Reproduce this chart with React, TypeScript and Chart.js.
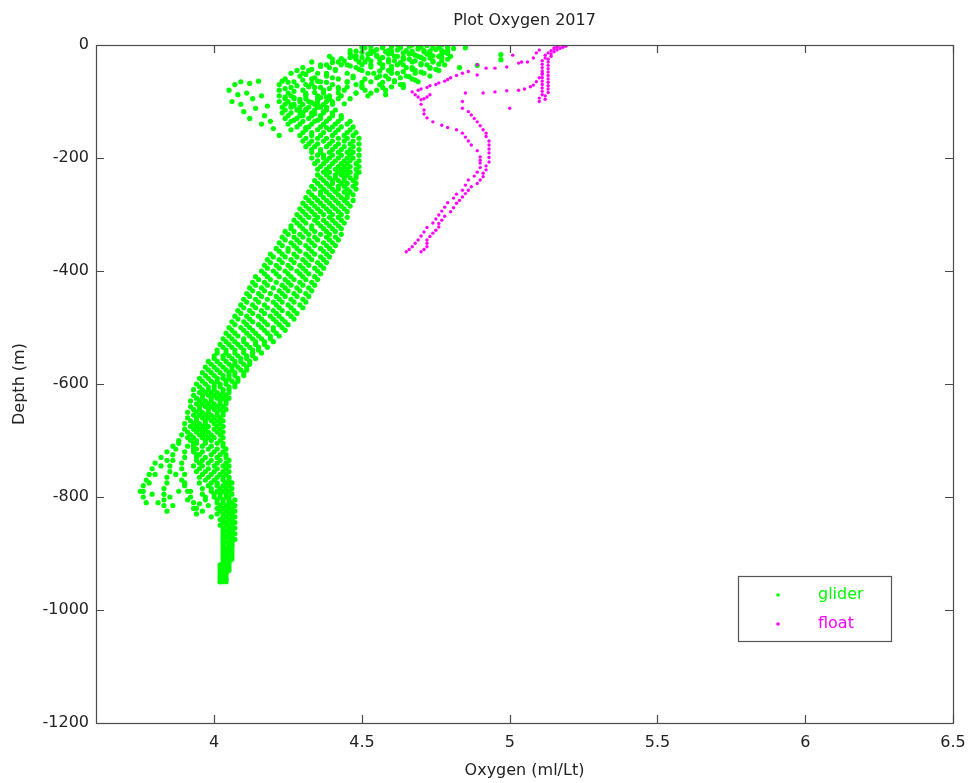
import React, { useEffect, useRef } from "react";
import { Chart, registerables } from "chart.js";

Chart.register(...registerables);

// ---------- DATA ----------
const chartTitle = "Plot Oxygen 2017";
const xAxisTitle = "Oxygen (ml/Lt)";
const yAxisTitle = "Depth (m)";
const seriesLabels = ["glider", "float"];
const xTicks = [4, 4.5, 5, 5.5, 6, 6.5];
const yTicks = [0, -200, -400, -600, -800, -1000, -1200];

// glider sampling depths (m)
const depthA = [
  0, -10, -20, -30, -40, -50, -60, -70, -80, -90,
  -100, -110, -120, -130, -140, -150, -160, -170, -180, -190,
  -200, -210, -220, -230, -240, -250, -260, -270, -280, -290,
  -300, -310, -320, -330, -340, -350, -360, -370, -380, -390,
  -400, -410, -420, -430, -440, -450, -460, -470, -480, -490,
  -500, -510, -520, -530, -540, -550, -560, -570, -580, -590,
  -600, -610, -620, -630, -640, -650, -660, -670, -680, -690,
  -700, -710, -720, -730, -740, -750, -760, -770, -780, -790,
  -800, -810, -820, -830, -840, -850, -860, -870, -880, -890,
  -900, -910, -920, -930, -940, -950,
];
const depthB = [
  -5, -15, -25, -35, -45, -55, -65, -75, -85, -95,
  -105, -115, -125, -135, -145, -155, -165, -175, -185, -195,
  -205, -215, -225, -235, -245, -255, -265, -275, -285, -295,
  -305, -315, -325, -335, -345, -355, -365, -375, -385, -395,
  -405, -415, -425, -435, -445, -455, -465, -475, -485, -495,
  -505, -515, -525, -535, -545, -555, -565, -575, -585, -595,
  -605, -615, -625, -635, -645, -655, -665, -675, -685, -695,
  -705, -715, -725, -735, -745, -755, -765, -775, -785, -795,
  -805, -815, -825, -835, -845, -855, -865, -875, -885, -895,
  -905, -915, -925, -935, -945,
];

// glider oxygen profiles on depthA
const gliderP1 = [
  4.51, 4.46, 4.39, 4.33, 4.30, 4.26, 4.24, 4.22, 4.22, 4.22,
  4.22, 4.23, 4.23, 4.24, 4.25, 4.26, 4.29, 4.30, 4.31, 4.33,
  4.33, 4.34, 4.35, 4.35, 4.34, 4.33, 4.32, 4.31, 4.30, 4.29,
  4.28, 4.27, 4.26, 4.24, 4.23, 4.22, 4.21, 4.19, 4.18, 4.17,
  4.16, 4.14, 4.13, 4.12, 4.11, 4.10, 4.09, 4.08, 4.07, 4.06,
  4.05, 4.04, 4.03, 4.02, 4.01, 4.00, 3.98, 3.97, 3.96, 3.95,
  3.94, 3.93, 3.93, 3.92, 3.92, 3.91, 3.91, 3.90, 3.90, 3.89,
  3.88, 3.86, 3.84, 3.82, 3.80, 3.79, 3.78, 3.77, 3.76, 3.76,
  3.76, 3.77,
];
const gliderP3 = [
  4.57, 4.53, 4.47, 4.42, 4.39, 4.35, 4.33, 4.31, 4.30, 4.26,
  4.25, 4.26, 4.26, 4.28, 4.29, 4.31, 4.33, 4.33, 4.34, 4.36,
  4.37, 4.37, 4.38, 4.38, 4.37, 4.36, 4.36, 4.34, 4.33, 4.32,
  4.31, 4.30, 4.29, 4.27, 4.27, 4.26, 4.25, 4.23, 4.22, 4.21,
  4.20, 4.18, 4.17, 4.16, 4.15, 4.14, 4.13, 4.12, 4.11, 4.10,
  4.09, 4.07, 4.06, 4.05, 4.04, 4.03, 4.01, 4.00, 3.99, 3.98,
  3.97, 3.96, 3.96, 3.95, 3.95, 3.94, 3.94, 3.93, 3.93, 3.92,
  3.92, 3.91, 3.90, 3.90, 3.89, 3.89, 3.90, 3.89, 3.90, 3.91,
  3.92, 3.93, 3.94,
];
const gliderP5 = [
  4.62, 4.59, 4.55, 4.51, 4.48, 4.45, 4.42, 4.40, 4.37, 4.31,
  4.29, 4.29, 4.30, 4.32, 4.33, 4.35, 4.36, 4.37, 4.38, 4.39,
  4.39, 4.40, 4.41, 4.41, 4.40, 4.39, 4.38, 4.37, 4.36, 4.35,
  4.34, 4.34, 4.33, 4.31, 4.30, 4.29, 4.28, 4.27, 4.26, 4.25,
  4.24, 4.22, 4.21, 4.20, 4.19, 4.18, 4.17, 4.16, 4.15, 4.13,
  4.12, 4.11, 4.10, 4.08, 4.07, 4.05, 4.04, 4.03, 4.02, 4.01,
  4.00, 3.98, 3.98, 3.97, 3.97, 3.96, 3.96, 3.95, 3.95, 3.95,
  3.94, 3.93, 3.93, 3.94, 3.95, 3.95, 3.96, 3.97, 3.98, 3.99,
  4.00, 4.01, 4.01, 4.01, 4.02, 4.02, 4.03, 4.03, 4.03, 4.03,
  4.03, 4.03, 4.02, 4.02, 4.02, 4.02,
];
const gliderP7 = [
  4.67, 4.65, 4.62, 4.59, 4.57, 4.54, 4.51, 4.48, 4.44, 4.35,
  4.32, 4.32, 4.33, 4.36, 4.37, 4.39, 4.40, 4.40, 4.41, 4.42,
  4.42, 4.43, 4.43, 4.43, 4.42, 4.42, 4.41, 4.40, 4.39, 4.38,
  4.37, 4.37, 4.36, 4.34, 4.34, 4.33, 4.32, 4.31, 4.30, 4.29,
  4.28, 4.26, 4.25, 4.24, 4.23, 4.22, 4.21, 4.20, 4.19, 4.17,
  4.16, 4.14, 4.13, 4.11, 4.10, 4.08, 4.07, 4.06, 4.05, 4.03,
  4.02, 4.00, 4.00, 3.99, 3.99, 3.98, 3.98, 3.97, 3.97, 3.97,
  3.97, 3.96, 3.96, 3.97, 3.98, 3.98, 3.99, 4.00, 4.01, 4.01,
  4.02, 4.03, 4.03, 4.03, 4.03, 4.04, 4.04, 4.04, 4.04, 4.04,
  4.04, 4.04, 4.03, 4.03, 4.03, 4.02,
];
const gliderP9 = [
  4.72, 4.71, 4.69, 4.67, 4.65, 4.62, 4.59, 4.56, 4.51, 4.39,
  4.35, 4.35, 4.37, 4.39, 4.41, 4.42, 4.44, 4.44, 4.44, 4.45,
  4.45, 4.45, 4.45, 4.45, 4.44, 4.44, 4.44, 4.43, 4.42, 4.41,
  4.40, 4.40, 4.39, 4.38, 4.38, 4.37, 4.36, 4.34, 4.33, 4.32,
  4.31, 4.30, 4.29, 4.28, 4.27, 4.26, 4.25, 4.23, 4.22, 4.21,
  4.20, 4.18, 4.16, 4.14, 4.13, 4.11, 4.09, 4.08, 4.07, 4.05,
  4.04, 4.03, 4.02, 4.02, 4.01, 4.01, 4.00, 4.00, 4.00, 3.99,
  3.99, 3.99, 4.00, 4.01, 4.01, 4.01, 4.02, 4.03, 4.03, 4.03,
  4.04, 4.05, 4.05, 4.05, 4.05, 4.05, 4.05, 4.05, 4.05, 4.05,
  4.05, 4.05, 4.04, 4.04, 4.03, 4.03,
];
const gliderP11 = [
  4.77, 4.77, 4.76, 4.74, 4.73, 4.71, 4.67, 4.63, 4.58, 4.43,
  4.38, 4.38, 4.40, 4.43, 4.45, 4.46, 4.47, 4.47, 4.47, 4.47,
  4.47, 4.48, 4.48, 4.48, 4.47, 4.47, 4.46, 4.45, 4.45, 4.44,
  4.43, 4.43, 4.42, 4.41, 4.41, 4.40, 4.39, 4.38, 4.37, 4.36,
  4.35, 4.34, 4.33, 4.32, 4.31, 4.30, 4.29, 4.27, 4.26, 4.24,
  4.23, 4.21, 4.19, 4.17, 4.15, 4.13, 4.12, 4.11, 4.10, 4.08,
  4.07, 4.05, 4.04, 4.04, 4.03, 4.03, 4.02, 4.02, 4.02, 4.02,
  4.02, 4.03, 4.03, 4.04, 4.04, 4.04, 4.04, 4.05, 4.05, 4.05,
  4.05, 4.06, 4.06, 4.06, 4.06, 4.06, 4.06, 4.06, 4.06, 4.06,
  4.06, 4.06, 4.05, 4.05, 4.04, 4.04,
];

// glider oxygen profiles on depthB
const gliderP2 = [
  4.51, 4.46, 4.40, 4.36, 4.32, 4.29, 4.27, 4.26, 4.25, 4.24,
  4.24, 4.24, 4.25, 4.26, 4.28, 4.30, 4.31, 4.32, 4.33, 4.35,
  4.35, 4.36, 4.37, 4.36, 4.35, 4.34, 4.33, 4.32, 4.31, 4.30,
  4.29, 4.28, 4.26, 4.25, 4.24, 4.23, 4.22, 4.20, 4.19, 4.18,
  4.17, 4.15, 4.14, 4.13, 4.12, 4.11, 4.10, 4.09, 4.08, 4.07,
  4.06, 4.05, 4.04, 4.03, 4.01, 4.00, 3.99, 3.98, 3.97, 3.96,
  3.95, 3.95, 3.94, 3.94, 3.93, 3.93, 3.92, 3.92, 3.91, 3.91,
  3.88, 3.87, 3.86, 3.86, 3.85, 3.85, 3.84, 3.84, 3.83, 3.83,
  3.83, 3.83, 3.84,
];
const gliderP4 = [
  4.57, 4.53, 4.48, 4.45, 4.41, 4.38, 4.36, 4.34, 4.31, 4.27,
  4.27, 4.28, 4.29, 4.30, 4.32, 4.33, 4.35, 4.35, 4.36, 4.37,
  4.38, 4.39, 4.39, 4.39, 4.38, 4.37, 4.36, 4.35, 4.34, 4.33,
  4.32, 4.31, 4.30, 4.29, 4.28, 4.27, 4.25, 4.24, 4.23, 4.22,
  4.21, 4.19, 4.18, 4.17, 4.16, 4.15, 4.14, 4.13, 4.12, 4.11,
  4.10, 4.08, 4.07, 4.06, 4.04, 4.03, 4.02, 4.01, 4.00, 3.99,
  3.98, 3.97, 3.96, 3.96, 3.95, 3.95, 3.94, 3.94, 3.94, 3.93,
  3.93, 3.93, 3.94, 3.94, 3.93, 3.94, 3.95, 3.95, 3.96, 3.96,
  3.97, 3.98,
];
const gliderP6 = [
  4.63, 4.60, 4.56, 4.53, 4.50, 4.47, 4.45, 4.42, 4.37, 4.31,
  4.30, 4.31, 4.33, 4.34, 4.36, 4.37, 4.38, 4.39, 4.40, 4.40,
  4.41, 4.42, 4.42, 4.41, 4.40, 4.40, 4.39, 4.38, 4.37, 4.36,
  4.35, 4.35, 4.33, 4.32, 4.32, 4.31, 4.29, 4.28, 4.27, 4.26,
  4.25, 4.24, 4.23, 4.22, 4.21, 4.20, 4.18, 4.17, 4.16, 4.15,
  4.13, 4.12, 4.10, 4.09, 4.07, 4.06, 4.05, 4.04, 4.03, 4.01,
  4.00, 3.99, 3.99, 3.98, 3.98, 3.97, 3.97, 3.96, 3.96, 3.96,
  3.94, 3.94, 3.95, 3.96, 3.96, 3.97, 3.98, 3.99, 3.99, 4.00,
  4.01, 4.02, 4.02, 4.03, 4.03, 4.03, 4.03, 4.03, 4.03, 4.03,
  4.03, 4.03, 4.02, 4.02, 4.02,
];
const gliderP8 = [
  4.69, 4.67, 4.64, 4.62, 4.59, 4.56, 4.53, 4.50, 4.42, 4.35,
  4.34, 4.34, 4.36, 4.38, 4.40, 4.41, 4.42, 4.42, 4.43, 4.43,
  4.44, 4.44, 4.44, 4.44, 4.43, 4.42, 4.42, 4.41, 4.40, 4.39,
  4.39, 4.38, 4.37, 4.36, 4.35, 4.34, 4.33, 4.32, 4.31, 4.30,
  4.29, 4.27, 4.26, 4.25, 4.24, 4.23, 4.22, 4.21, 4.20, 4.18,
  4.17, 4.15, 4.14, 4.12, 4.10, 4.09, 4.07, 4.06, 4.05, 4.04,
  4.02, 4.01, 4.01, 4.00, 4.00, 3.99, 3.99, 3.98, 3.98, 3.98,
  3.97, 3.98, 3.99, 3.99, 4.00, 4.00, 4.01, 4.01, 4.02, 4.02,
  4.03, 4.04, 4.04, 4.04, 4.04, 4.05, 4.05, 4.05, 4.05, 4.04,
  4.04, 4.04, 4.03, 4.03, 4.03,
];
const gliderP10 = [
  4.74, 4.73, 4.71, 4.70, 4.68, 4.65, 4.61, 4.57, 4.48, 4.39,
  4.37, 4.38, 4.40, 4.42, 4.43, 4.45, 4.45, 4.46, 4.46, 4.46,
  4.46, 4.46, 4.46, 4.46, 4.45, 4.45, 4.45, 4.44, 4.43, 4.42,
  4.42, 4.41, 4.40, 4.39, 4.39, 4.38, 4.37, 4.36, 4.35, 4.34,
  4.32, 4.31, 4.30, 4.29, 4.28, 4.27, 4.26, 4.25, 4.23, 4.22,
  4.20, 4.19, 4.17, 4.15, 4.13, 4.11, 4.10, 4.09, 4.07, 4.06,
  4.05, 4.03, 4.03, 4.02, 4.02, 4.01, 4.01, 4.01, 4.01, 4.00,
  4.01, 4.01, 4.02, 4.02, 4.03, 4.03, 4.03, 4.04, 4.04, 4.04,
  4.05, 4.05, 4.06, 4.06, 4.06, 4.06, 4.06, 4.06, 4.06, 4.05,
  4.05, 4.05, 4.04, 4.04, 4.04,
];
const gliderP12 = [
  4.79, 4.79, 4.79, 4.78, 4.76, 4.73, 4.69, 4.64, 4.53, 4.42,
  4.40, 4.41, 4.43, 4.46, 4.47, 4.48, 4.49, 4.49, 4.49, 4.49,
  4.49, 4.49, 4.49, 4.48, 4.48, 4.48, 4.47, 4.47, 4.46, 4.45,
  4.45, 4.44, 4.43, 4.43, 4.42, 4.41, 4.40, 4.39, 4.38, 4.37,
  4.36, 4.35, 4.34, 4.33, 4.32, 4.31, 4.30, 4.28, 4.27, 4.25,
  4.24, 4.22, 4.20, 4.18, 4.16, 4.14, 4.12, 4.11, 4.10, 4.08,
  4.07, 4.05, 4.05, 4.04, 4.04, 4.03, 4.03, 4.03, 4.03, 4.03,
  4.03, 4.04, 4.04, 4.05, 4.05, 4.05, 4.05, 4.06, 4.06, 4.06,
  4.07, 4.07, 4.07, 4.07, 4.07, 4.07, 4.07, 4.07, 4.06, 4.06,
  4.06, 4.05, 4.05, 4.04, 4.04,
];

// scattered glider samples (surface cloud, outliers, deep branch)
const gliderExtraOxygen = [
  4.53, 4.60, 4.66, 4.72, 4.79, 4.55, 4.62, 4.69, 4.75, 4.81,
  4.50, 4.58, 4.64, 4.71, 4.78, 4.48, 4.55, 4.61, 4.68, 4.74,
  4.80, 4.43, 4.52, 4.59, 4.66, 4.73, 4.77, 4.40, 4.49, 4.56,
  4.63, 4.70, 4.76, 4.36, 4.46, 4.53, 4.60, 4.67, 4.73, 4.56,
  4.64, 4.70, 4.58, 4.66, 4.61, 4.68, 4.64, 4.85, 4.97, 4.97,
  4.89, 4.83,
  4.45, 4.50, 4.55, 4.48, 4.42, 4.52, 4.46, 4.58, 4.40, 4.44,
  4.28, 4.31, 4.34, 4.30, 4.25, 4.28, 4.33, 4.36, 4.27, 4.31,
  4.34, 4.29, 4.33, 4.27, 4.31, 4.36, 4.24, 4.38, 4.30, 4.34,
  4.05, 4.07, 4.09, 4.12, 4.15, 4.08, 4.11, 4.06, 4.09, 4.13,
  4.16, 4.10, 4.14, 4.18, 4.12, 4.17, 4.16, 4.19, 4.20, 4.22,
  3.78, 3.80, 3.79, 3.81, 3.85, 3.86, 3.88, 3.91, 3.93, 3.95,
  3.97, 3.87, 3.90, 3.82, 3.84, 3.92, 3.94, 3.96, 3.99, 3.75,
];
const gliderExtraDepth = [
  -2, -3, -2, -1, -2, -8, -9, -7, -8, -6,
  -13, -12, -14, -12, -13, -19, -18, -20, -18, -19,
  -20, -24, -24, -26, -25, -23, -28, -31, -30, -32,
  -31, -33, -34, -38, -37, -39, -38, -40, -41, -46,
  -47, -48, -55, -56, -63, -62, -70, -5, -17, -26,
  -36, -40,
  -65, -72, -80, -85, -78, -90, -95, -88, -100, -104,
  -45, -52, -58, -62, -66, -72, -68, -75, -82, -88,
  -84, -96, -102, -108, -114, -110, -92, -92, -125, -122,
  -80, -70, -65, -68, -64, -88, -85, -100, -105, -95,
  -90, -118, -112, -108, -130, -125, -140, -135, -148, -160,
  -775, -760, -795, -810, -800, -815, -790, -805, -820, -812,
  -800, -760, -775, -745, -735, -790, -830, -825, -835, -790,
];

// more glider samples in the dense near-surface cloud
const gliderSurfaceOxygen = [
  4.50, 4.57, 4.63, 4.70, 4.76,
  4.48, 4.54, 4.60, 4.67, 4.73, 4.79,
  4.52, 4.59, 4.66, 4.72, 4.77,
  4.46, 4.50, 4.57, 4.64, 4.70, 4.77,
  4.44, 4.53, 4.61, 4.68, 4.74,
  4.38, 4.43, 4.50, 4.57, 4.64, 4.72,
  4.33, 4.41, 4.49, 4.60, 4.67, 4.75,
  4.30, 4.38, 4.52, 4.60, 4.68,
  4.40, 4.47, 4.55, 4.63,
  4.38, 4.50, 4.57,
  4.32, 4.45, 4.60,
  4.23, 4.35, 4.24, 4.39, 4.27, 4.36, 4.26, 4.35, 4.29, 4.37,
  4.27, 4.35, 4.31, 4.38,
];
const gliderSurfaceDepth = [
  -4, -4, -4, -4, -4,
  -11, -11, -11, -11, -11, -11,
  -16, -16, -16, -16, -16,
  -22, -22, -22, -22, -22, -22,
  -28, -28, -28, -28, -28,
  -35, -35, -35, -35, -35, -35,
  -43, -43, -43, -43, -43, -43,
  -50, -50, -50, -50, -50,
  -58, -58, -58, -58,
  -66, -66, -66,
  -74, -74, -74,
  -64, -64, -77, -77, -93, -93, -106, -106, -118, -118,
  -133, -133, -146, -146,
];

// float samples
const floatOxygen = [
  5.19, 5.18, 5.17, 5.16, 5.15, 5.14, 5.14, 5.13, 5.13, 5.13,
  5.13, 5.13, 5.13, 5.13, 5.13, 5.13, 5.13, 5.13, 5.12, 5.12,
  5.18, 5.16, 5.15, 5.14, 5.13, 5.12, 5.12, 5.11, 5.11, 5.11,
  5.11, 5.11, 5.11, 5.11, 5.11, 5.11, 5.11, 5.11, 5.10, 5.10,
  5.17, 5.16, 5.15,
  5.10, 5.09, 5.08, 5.06, 5.04, 5.03, 5.01, 4.99, 4.95, 4.92,
  4.89, 4.89,
  5.05, 5.07, 5.08, 5.09, 5.10, 5.11,
  4.85, 4.91, 4.95, 4.99, 5.03, 5.00,
  4.67, 4.69, 4.70, 4.72, 4.73, 4.75, 4.76, 4.78, 4.79, 4.80,
  4.82, 4.84, 4.86,
  4.68, 4.69, 4.71, 4.72, 4.73,
  4.70, 4.70, 4.71, 4.71, 4.72, 4.74, 4.77, 4.79, 4.82, 4.84,
  4.85, 4.86, 4.87, 4.89, 4.90, 4.90, 4.90, 4.90, 4.89, 4.88,
  4.86, 4.85, 4.84, 4.82, 4.81, 4.79, 4.78, 4.77, 4.76, 4.75,
  4.74, 4.72, 4.71, 4.70, 4.69, 4.68, 4.67, 4.66, 4.65,
  4.84, 4.84, 4.86, 4.87, 4.88, 4.89, 4.90, 4.91, 4.92, 4.92,
  4.93, 4.93, 4.93, 4.93, 4.93, 4.93, 4.92, 4.92, 4.91, 4.91,
  4.90, 4.89, 4.87, 4.86, 4.85, 4.84, 4.83, 4.82, 4.81, 4.80,
  4.78, 4.77, 4.76, 4.76, 4.75, 4.74, 4.73, 4.72, 4.72, 4.72,
  4.71, 4.70,
];
const floatDepth = [
  -2, -4, -6, -9, -12, -16, -20, -25, -30, -36,
  -42, -48, -54, -60, -66, -72, -78, -84, -90, -96,
  -1, -4, -7, -10, -14, -18, -23, -28, -34, -40,
  -46, -52, -58, -64, -70, -76, -82, -88, -94, -100,
  0, -2, -5,
  -9, -14, -23, -30, -30, -32, -18, -39, -41, -41,
  -35, -53,
  -78, -74, -71, -65, -58, -50,
  -85, -85, -83, -81, -80, -112,
  -83, -80, -78, -75, -72, -70, -67, -64, -61, -58,
  -54, -50, -47,
  -88, -92, -95, -92, -88,
  -97, -105, -115, -122, -129, -136, -142, -146, -150, -156,
  -163, -170, -177, -187, -198, -204, -209, -217, -225, -232,
  -239, -248, -257, -264, -271, -279, -287, -294, -301, -308,
  -315, -323, -331, -338, -345, -351, -357, -362, -366,
  -100, -112, -118, -124, -130, -136, -143, -150, -156, -162,
  -170, -177, -184, -191, -199, -207, -214, -221, -227, -233,
  -239, -245, -251, -257, -263, -269, -275, -280, -288, -295,
  -303, -310, -316, -322, -328, -333, -339, -345, -351, -357,
  -362, -366,
];

// ---------- STYLE ----------
const FONT = "'DejaVu Sans', 'Liberation Sans', sans-serif";
const GLIDER_COLOR = "#00ff00";
const FLOAT_COLOR = "#ff00ff";
const TEXT_COLOR = "#222222";
const FRAME_COLOR = "#4a4a4a";

const gliderProfilesA = [gliderP1, gliderP3, gliderP5, gliderP7, gliderP9, gliderP11];
const gliderProfilesB = [gliderP2, gliderP4, gliderP6, gliderP8, gliderP10, gliderP12];

function buildGliderPoints() {
  const pts: { x: number; y: number }[] = [];
  gliderProfilesA.forEach((p) => p.forEach((v, i) => pts.push({ x: v, y: depthA[i] })));
  gliderProfilesB.forEach((p) => p.forEach((v, i) => pts.push({ x: v, y: depthB[i] })));
  gliderExtraOxygen.forEach((v, i) => pts.push({ x: v, y: gliderExtraDepth[i] }));
  gliderSurfaceOxygen.forEach((v, i) => pts.push({ x: v, y: gliderSurfaceDepth[i] }));
  return pts;
}

function buildFloatPoints() {
  return floatOxygen.map((v, i) => ({ x: v, y: floatDepth[i] }));
}

const framePlugin = {
  id: "frameAndDecor",
  afterDraw(chart: any) {
    const { ctx, chartArea, scales } = chart;
    const { left, right, top, bottom } = chartArea;
    ctx.save();
    ctx.strokeStyle = FRAME_COLOR;
    ctx.lineWidth = 1.2;
    ctx.strokeRect(Math.round(left) + 0.5, Math.round(top) + 0.5, Math.round(right - left), Math.round(bottom - top));
    const tl = 8;
    ctx.beginPath();
    xTicks.forEach((v) => {
      const px = Math.round(scales.x.getPixelForValue(v)) + 0.5;
      ctx.moveTo(px, bottom);
      ctx.lineTo(px, bottom - tl);
      ctx.moveTo(px, top);
      ctx.lineTo(px, top + tl);
    });
    yTicks.forEach((v) => {
      const py = Math.round(scales.y.getPixelForValue(v)) + 0.5;
      ctx.moveTo(left, py);
      ctx.lineTo(left + tl, py);
      ctx.moveTo(right, py);
      ctx.lineTo(right - tl, py);
    });
    ctx.stroke();

    ctx.fillStyle = TEXT_COLOR;
    ctx.font = `16px ${FONT}`;
    ctx.textAlign = "center";
    ctx.textBaseline = "middle";
    ctx.fillText(chartTitle, (left + right) / 2, 21);

    const bx = right - 215;
    const by = bottom - 147;
    const bw = 153;
    const bh = 65;
    ctx.strokeStyle = "#555555";
    ctx.lineWidth = 1.2;
    ctx.strokeRect(bx + 0.5, by + 0.5, bw, bh);
    const colors = [GLIDER_COLOR, FLOAT_COLOR];
    seriesLabels.forEach((lab, i) => {
      const cy = by + 19 + i * 29;
      ctx.fillStyle = colors[i];
      ctx.beginPath();
      ctx.arc(bx + 40, cy, 1.8, 0, Math.PI * 2);
      ctx.fill();
      ctx.font = `16px ${FONT}`;
      ctx.textAlign = "left";
      ctx.textBaseline = "middle";
      ctx.fillText(lab, bx + 80, cy);
    });
    ctx.restore();
  },
};

export default function App() {
  const canvasRef = useRef<HTMLCanvasElement | null>(null);

  useEffect(() => {
    if (!canvasRef.current) return;
    const chart = new Chart(canvasRef.current, {
      type: "scatter",
      data: {
        datasets: [
          {
            label: seriesLabels[0],
            data: buildGliderPoints(),
            backgroundColor: GLIDER_COLOR,
            borderWidth: 0,
            pointRadius: 2.6,
            pointHoverRadius: 2.6,
            order: 1,
          },
          {
            label: seriesLabels[1],
            data: buildFloatPoints(),
            backgroundColor: FLOAT_COLOR,
            borderWidth: 0,
            pointRadius: 1.7,
            pointHoverRadius: 1.7,
            order: 0,
          },
        ],
      },
      options: {
        animation: false,
        responsive: true,
        maintainAspectRatio: false,
        layout: { padding: { top: 45, right: 19, left: 0, bottom: 0 } },
        plugins: {
          legend: { display: false },
          title: { display: false },
          tooltip: { enabled: false },
        },
        scales: {
          x: {
            type: "linear",
            min: 3.6,
            max: 6.5,
            afterBuildTicks: (s: any) => {
              s.ticks = xTicks.map((v) => ({ value: v }));
            },
            afterFit: (s: any) => {
              s.height = 60;
              s.paddingLeft = 0;
              s.paddingRight = 0;
            },
            grid: { display: false, drawTicks: false },
            border: { display: false },
            ticks: {
              padding: 10,
              color: TEXT_COLOR,
              font: { family: FONT, size: 16 },
              maxRotation: 0,
              autoSkip: false,
              callback: (v: any) => String(v),
            },
            title: {
              display: true,
              text: xAxisTitle,
              color: TEXT_COLOR,
              font: { family: FONT, size: 16 },
              padding: { top: 0, bottom: 3 },
            },
          },
          y: {
            type: "linear",
            min: -1200,
            max: 0,
            afterBuildTicks: (s: any) => {
              s.ticks = yTicks.map((v) => ({ value: v }));
            },
            afterFit: (s: any) => {
              s.width = 96;
              s.paddingTop = 0;
              s.paddingBottom = 0;
            },
            grid: { display: false, drawTicks: false },
            border: { display: false },
            ticks: {
              padding: 7,
              color: TEXT_COLOR,
              font: { family: FONT, size: 16 },
              autoSkip: false,
              callback: (v: any) => String(v),
            },
            title: {
              display: true,
              text: yAxisTitle,
              color: TEXT_COLOR,
              font: { family: FONT, size: 16 },
              padding: { top: 10, bottom: 0 },
            },
          },
        },
      },
      plugins: [framePlugin],
    });
    return () => chart.destroy();
  }, []);

  return (
    <div style={{ position: "absolute", left: 0, top: 0, width: 972, height: 783, background: "#ffffff" }}>
      <canvas ref={canvasRef} />
    </div>
  );
}
